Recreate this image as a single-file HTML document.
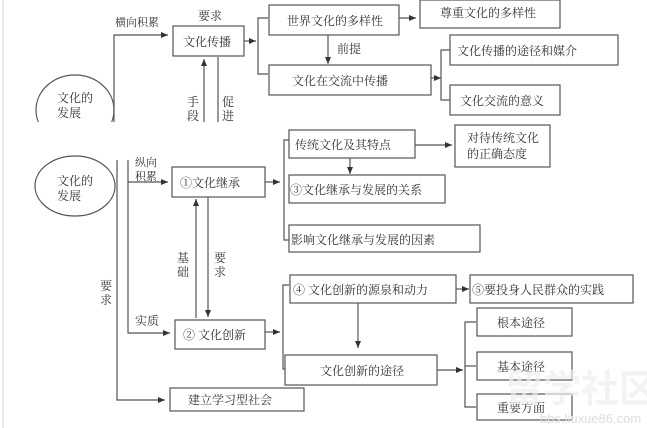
<!DOCTYPE html>
<html><head><meta charset="utf-8"><style>
body{margin:0;background:#fff;}
svg{display:block;font-family:"Liberation Serif","Noto Serif CJK SC",serif;}
rect{fill:#fff;stroke:#555;stroke-width:1.2}
line,polyline,path,ellipse{stroke:#555;stroke-width:1.2;fill:none}
text{font-size:12px;fill:#333}
</style></head><body>
<svg width="647" height="428" viewBox="0 0 647 428">
<defs><marker id="a" markerWidth="8" markerHeight="8" refX="7" refY="4" orient="auto" markerUnits="userSpaceOnUse"><path d="M0,1 L7,4 L0,7 z" style="fill:#333;stroke:none"/></marker>
<clipPath id="c"><rect x="0" y="0" width="130" height="122" style="stroke:none"/></clipPath></defs>
<line x1="3" y1="0" x2="3" y2="428" style="stroke:#ddd"/>
<!-- top section -->
<ellipse cx="75" cy="110" rx="39" ry="35" clip-path="url(#c)"/>
<text x="57" y="102">文化的</text><text x="57" y="117">发展</text>
<polyline points="114,122 114,35 168,35" marker-end="url(#a)"/>
<text x="115" y="26" style="font-size:11px">横向积累</text>
<text x="198" y="20">要求</text>
<rect x="173" y="26" width="71" height="30"/><text x="183" y="46">文化传播</text>
<line x1="204" y1="122" x2="204" y2="59" marker-end="url(#a)"/>
<line x1="218" y1="57" x2="218" y2="122"/>
<text x="187" y="106">手</text><text x="187" y="120">段</text>
<text x="222" y="106">促</text><text x="222" y="120">进</text>
<line x1="244" y1="41" x2="256" y2="41" marker-end="url(#a)"/>
<polyline points="268,18 258,18 258,74 268,74"/>
<rect x="269" y="5" width="130" height="30"/><text x="287" y="25">世界文化的多样性</text>
<line x1="399" y1="18" x2="416" y2="18" marker-end="url(#a)"/>
<rect x="420" y="0" width="140" height="28"/><text x="440" y="17">尊重文化的多样性</text>
<line x1="328" y1="35" x2="328" y2="64" marker-end="url(#a)"/>
<text x="337" y="53">前提</text>
<rect x="269" y="65" width="162" height="30"/><text x="292" y="85">文化在交流中传播</text>
<line x1="431" y1="78" x2="441" y2="78" marker-end="url(#a)"/>
<polyline points="450,50 441,50 441,100 450,100"/>
<rect x="450" y="35" width="168" height="30"/><text x="457" y="55">文化传播的途径和媒介</text>
<rect x="450" y="85" width="110" height="30"/><text x="460" y="105">文化交流的意义</text>
<!-- second section -->
<ellipse cx="75" cy="186" rx="40" ry="30"/>
<text x="57" y="185">文化的</text><text x="57" y="200">发展</text>
<polyline points="117,160 117,400 165,400" marker-end="url(#a)"/>
<text x="100" y="290">要</text><text x="100" y="304">求</text>
<rect x="170" y="388" width="134" height="23"/><text x="188" y="404">建立学习型社会</text>
<polyline points="128,160 128,333 170,333" marker-end="url(#a)"/>
<line x1="128" y1="182" x2="168" y2="182" marker-end="url(#a)"/>
<text x="135" y="166" style="font-size:11px">纵向</text><text x="135" y="180" style="font-size:11px">积累</text>
<text x="135" y="325">实质</text>
<rect x="172" y="167" width="93" height="30"/><text x="180" y="187">①文化继承</text>
<line x1="196" y1="318" x2="196" y2="199" marker-end="url(#a)"/>
<line x1="208" y1="197" x2="208" y2="317" marker-end="url(#a)"/>
<text x="177" y="262">基</text><text x="177" y="276">础</text>
<text x="214" y="262">要</text><text x="214" y="276">求</text>
<rect x="175" y="320" width="90" height="29"/><text x="183" y="339">② 文化创新</text>
<line x1="265" y1="182" x2="280" y2="182" marker-end="url(#a)"/>
<polyline points="289,140 284,140 284,240 289,240"/>
<rect x="289" y="130" width="126" height="28"/><text x="295" y="149">传统文化及其特点</text>
<line x1="350" y1="158" x2="350" y2="174" marker-end="url(#a)"/>
<rect x="289" y="175" width="156" height="28"/><text x="290" y="194">③文化继承与发展的关系</text>
<rect x="289" y="225" width="191" height="27"/><text x="291" y="244">影响文化继承与发展的因素</text>
<line x1="415" y1="145" x2="452" y2="145" marker-end="url(#a)"/>
<rect x="455" y="125" width="95" height="42"/><text x="467" y="142">对待传统文化</text><text x="467" y="158">的正确态度</text>
<line x1="265" y1="332" x2="280" y2="332" marker-end="url(#a)"/>
<polyline points="289,285 283,285 283,369 289,369"/>
<rect x="290" y="275" width="166" height="28"/><text x="293" y="294">④ 文化创新的源泉和动力</text>
<line x1="456" y1="289" x2="469" y2="289" marker-end="url(#a)"/>
<rect x="470" y="275" width="163" height="28"/><text x="472" y="294">⑤要投身人民群众的实践</text>
<line x1="358" y1="303" x2="358" y2="348" marker-end="url(#a)"/>
<rect x="285" y="355" width="152" height="30"/><text x="320" y="375">文化创新的途径</text>
<line x1="437" y1="370" x2="463" y2="370" marker-end="url(#a)"/>
<polyline points="476,322 465,322 465,407 476,407"/>
<line x1="465" y1="366" x2="476" y2="366"/>
<rect x="477" y="308" width="95" height="28"/><text x="497" y="327">根本途径</text>
<rect x="477" y="352" width="95" height="28"/><text x="497" y="371">基本途径</text>
<rect x="477" y="394" width="95" height="26"/><text x="497" y="412">重要方面</text>
<text x="505" y="402" style="font-size:38px;fill:#eee;font-family:'Liberation Sans','Noto Sans CJK SC',sans-serif;font-weight:bold;opacity:.7">留学社区</text>
<text x="540" y="423" style="font-size:13px;fill:#ddd;font-family:'Liberation Sans',sans-serif">bbs.liuxue86.com</text>
</svg>
</body></html>
